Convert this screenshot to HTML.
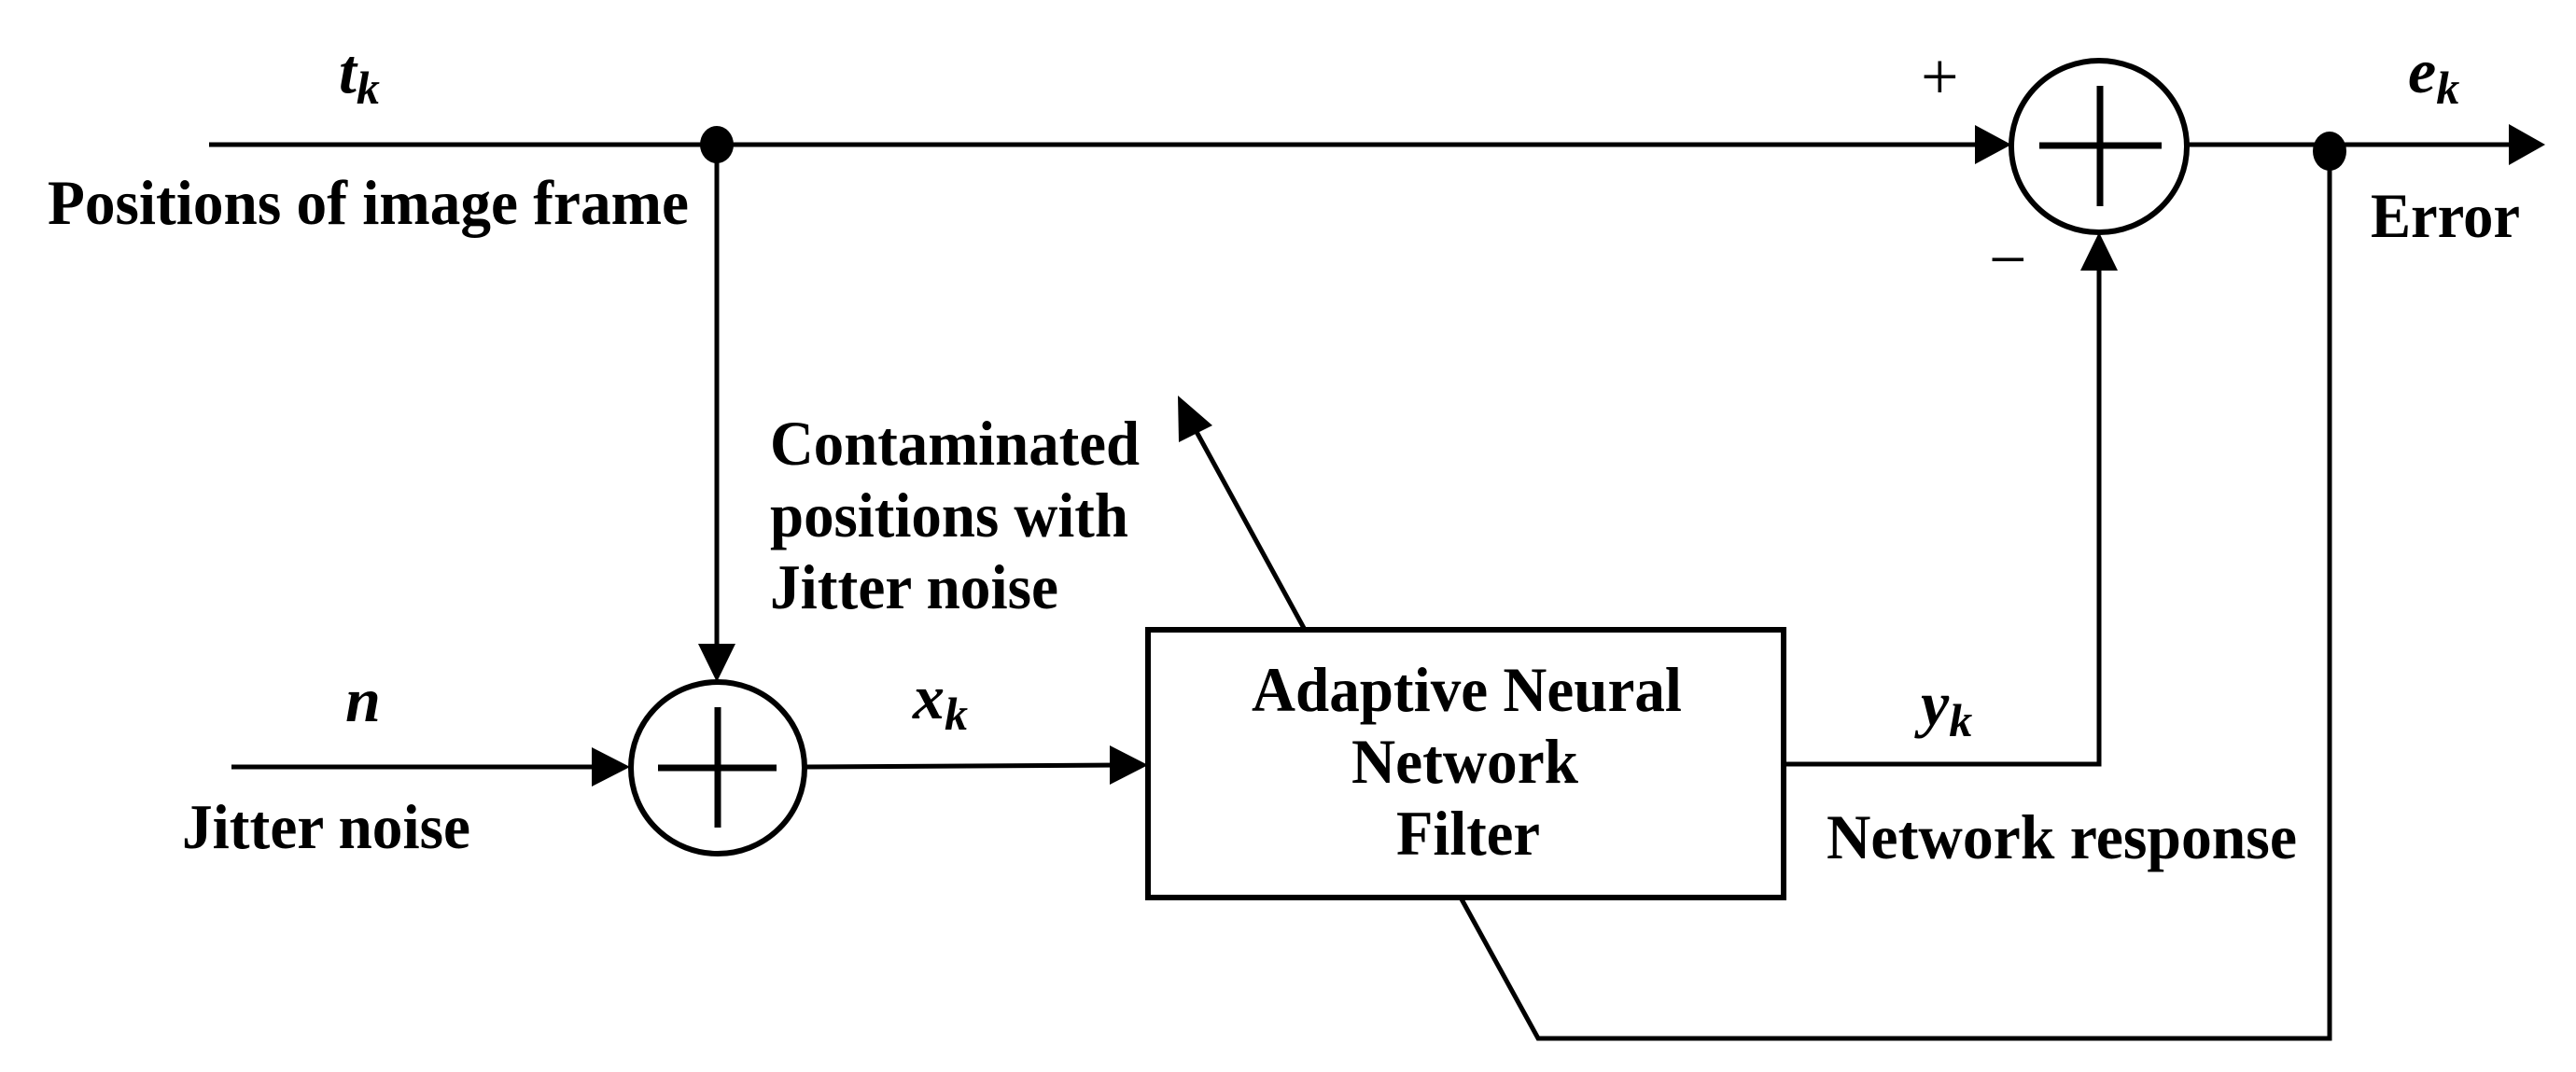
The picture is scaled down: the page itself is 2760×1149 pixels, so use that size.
<!DOCTYPE html>
<html><head><meta charset="utf-8"><style>
html,body{margin:0;padding:0;background:#fff;}
svg{display:block;}
text{font-family:"Liberation Serif",serif;font-weight:bold;fill:#000;}
</style></head><body>
<svg width="2760" height="1149" viewBox="0 0 2760 1149" xmlns="http://www.w3.org/2000/svg">
<g stroke="#000" stroke-width="5" fill="none">
  <line x1="224" y1="155" x2="2125" y2="155"/>
  <line x1="768" y1="155" x2="768" y2="700"/>
  <line x1="248" y1="822" x2="645" y2="822"/>
  <line x1="863" y1="822" x2="1200" y2="820"/>
  <rect x="1230" y="675" width="681" height="287" stroke-width="6"/>
  <line x1="1398" y1="675" x2="1275" y2="450"/>
  <polyline points="1565,962 1648,1113 2496,1113 2496,165"/>
  <polyline points="1911,819 2249,819 2249,280"/>
  <line x1="2343" y1="155" x2="2695" y2="155"/>
  <ellipse cx="769" cy="823" rx="93" ry="92" stroke-width="6"/>
  <line x1="705" y1="823" x2="832" y2="823" stroke-width="7"/>
  <line x1="769" y1="758" x2="769" y2="887" stroke-width="7"/>
  <ellipse cx="2249" cy="157" rx="94" ry="92" stroke-width="6"/>
  <line x1="2185" y1="156" x2="2316" y2="156" stroke-width="7"/>
  <line x1="2250" y1="92" x2="2250" y2="221" stroke-width="7"/>
</g>
<g fill="#000">
  <ellipse cx="768" cy="155" rx="18" ry="20"/>
  <ellipse cx="2496" cy="162" rx="18" ry="21"/>
  <polygon points="2155,155 2116,134 2116,176"/>
  <polygon points="768,731 748,690 788,690"/>
  <polygon points="675,822 634,801 634,843"/>
  <polygon points="1230,820 1189,799 1189,841"/>
  <polygon points="2249,249 2229,290 2269,290"/>
  <polygon points="2727,155 2688,133 2688,177"/>
  <polygon points="1262,424 1263,474 1299,456"/>
</g>
<g font-size="68">
  <text x="51" y="240" textLength="687" lengthAdjust="spacingAndGlyphs">Positions of image frame</text>
  <text x="825" y="498" textLength="396" lengthAdjust="spacingAndGlyphs">Contaminated</text>
  <text x="825" y="575" textLength="384" lengthAdjust="spacingAndGlyphs">positions with</text>
  <text x="825" y="652" textLength="309" lengthAdjust="spacingAndGlyphs">Jitter noise</text>
  <text x="195" y="909" textLength="309" lengthAdjust="spacingAndGlyphs">Jitter noise</text>
  <text x="1341" y="762" textLength="461" lengthAdjust="spacingAndGlyphs">Adaptive Neural</text>
  <text x="1448" y="839" textLength="243" lengthAdjust="spacingAndGlyphs">Network</text>
  <text x="1496" y="916" textLength="154" lengthAdjust="spacingAndGlyphs">Filter</text>
  <text x="1957" y="920" textLength="504" lengthAdjust="spacingAndGlyphs">Network response</text>
  <text x="2540" y="254" textLength="160" lengthAdjust="spacingAndGlyphs">Error</text>
</g>
<g font-size="68" font-style="italic">
  <text x="363" y="99">t<tspan font-size="50" dy="12">k</tspan></text>
  <text x="2580" y="99">e<tspan font-size="50" dy="12">k</tspan></text>
  <text x="370" y="773">n</text>
  <text x="978" y="770">x<tspan font-size="50" dy="12">k</tspan></text>
  <text x="2058" y="777">y<tspan font-size="50" dy="12">k</tspan></text>
</g>
<g font-size="72">
  <text x="2058" y="106" style="font-weight:normal">+</text>
  <text x="2131" y="302" style="font-weight:normal">−</text>
</g>
</svg>
</body></html>
